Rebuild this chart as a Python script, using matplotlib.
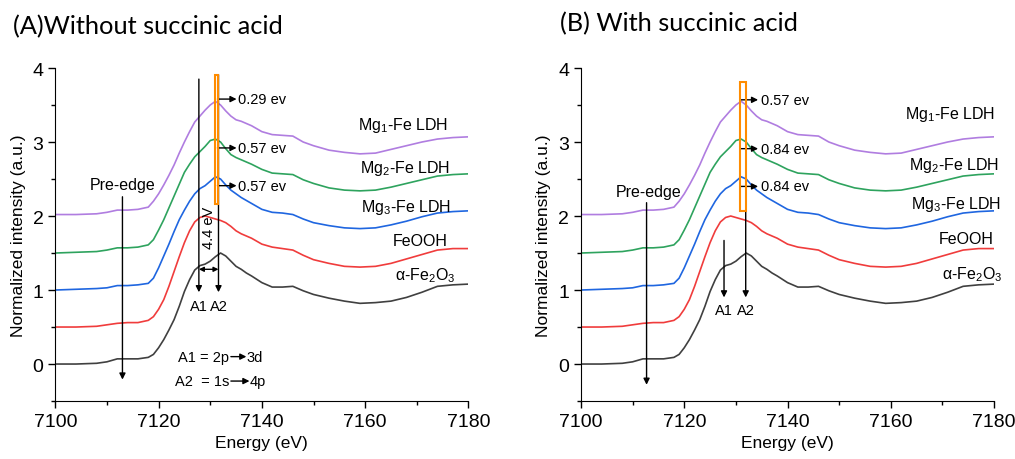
import matplotlib
matplotlib.use("Agg")
import matplotlib.pyplot as plt
from matplotlib.patches import Rectangle
from matplotlib.ticker import MultipleLocator

plt.rcParams['font.family'] = ['Liberation Sans', 'DejaVu Sans']
plt.rcParams['mathtext.fontset'] = 'custom'
plt.rcParams['mathtext.rm'] = 'Liberation Sans'
plt.rcParams['mathtext.it'] = 'Liberation Sans:italic'

# energy grid (eV) shared by all spectra
energy = [7100, 7104, 7108, 7110, 7112, 7114, 7116, 7118,
          7119, 7120, 7121, 7122, 7123, 7124, 7125, 7126, 7127, 7128, 7129, 7130,
          7131, 7132, 7133, 7134, 7135, 7136, 7137, 7138,
          7140, 7142, 7144, 7146, 7148, 7150,
          7153, 7156, 7159, 7162, 7165, 7168, 7171, 7174, 7177, 7180]

# normalized spectra before stacking
fe2o3 = [0.00, 0.00, 0.01, 0.03, 0.07, 0.07, 0.07, 0.09,
         0.13, 0.22, 0.33, 0.46, 0.60, 0.78, 0.98, 1.14, 1.27, 1.33, 1.35, 1.39,
         1.45, 1.50, 1.46, 1.39, 1.32, 1.28, 1.23, 1.19,
         1.10, 1.04, 1.04, 1.05, 0.99, 0.94,
         0.89, 0.85, 0.82, 0.83, 0.85, 0.90, 0.97, 1.05, 1.07, 1.08]
feooh = [0.00, 0.00, 0.01, 0.03, 0.05, 0.06, 0.06, 0.09,
         0.14, 0.24, 0.37, 0.55, 0.75, 0.95, 1.14, 1.30, 1.42, 1.48, 1.50, 1.48,
         1.46, 1.44, 1.41, 1.36, 1.30, 1.26, 1.23, 1.20,
         1.12, 1.08, 1.06, 1.04, 0.97, 0.91,
         0.86, 0.82, 0.81, 0.82, 0.86, 0.92, 0.98, 1.04, 1.06, 1.06]
mg3 = [0.00, 0.01, 0.02, 0.03, 0.06, 0.06, 0.07, 0.09,
       0.16, 0.30, 0.46, 0.62, 0.79, 0.95, 1.08, 1.20, 1.30, 1.37, 1.41, 1.47,
       1.53, 1.50, 1.42, 1.35, 1.30, 1.25, 1.21, 1.17,
       1.09, 1.05, 1.04, 1.02, 0.96, 0.91,
       0.87, 0.84, 0.83, 0.84, 0.88, 0.93, 0.99, 1.04, 1.06, 1.07]
mg2 = [0.00, 0.01, 0.02, 0.04, 0.07, 0.07, 0.08, 0.11,
       0.18, 0.31, 0.45, 0.61, 0.77, 0.93, 1.09, 1.20, 1.30, 1.37, 1.44, 1.52,
       1.54, 1.50, 1.41, 1.33, 1.29, 1.26, 1.23, 1.20,
       1.13, 1.08, 1.07, 1.06, 0.99, 0.94,
       0.88, 0.85, 0.84, 0.85, 0.89, 0.94, 0.99, 1.04, 1.06, 1.07]
mg1 = [0.02, 0.02, 0.03, 0.05, 0.08, 0.08, 0.09, 0.12,
       0.20, 0.30, 0.42, 0.55, 0.69, 0.85, 1.00, 1.14, 1.27, 1.35, 1.43, 1.50,
       1.55, 1.50, 1.42, 1.35, 1.30, 1.28, 1.25, 1.22,
       1.14, 1.10, 1.09, 1.08, 1.00, 0.95,
       0.89, 0.86, 0.84, 0.85, 0.90, 0.95, 1.00, 1.04, 1.06, 1.07]

samples = [fe2o3, feooh, mg3, mg2, mg1]
offsets = [0.0, 0.5, 1.0, 1.5, 2.0]
colors = ['#404040', '#f03c3c', '#1f66e0', '#2ea35e', '#b07de0']
names = [r'$\mathregular{\alpha}$-Fe$_2$O$_3$', 'FeOOH', 'Mg$_3$-Fe LDH',
         'Mg$_2$-Fe LDH', 'Mg$_1$-Fe LDH']

shift_a = ['0.57 ev', '0.57 ev', '0.29 ev']
shift_b = ['0.84 ev', '0.84 ev', '0.57 ev']

fig = plt.figure(figsize=(10.15, 4.6), dpi=100)
axA = fig.add_axes([0.0545, 0.126, 0.407, 0.724])
axB = fig.add_axes([0.5724, 0.126, 0.407, 0.724])

arrow = dict(arrowstyle='-|>', color='black', lw=1.0, mutation_scale=9,
             shrinkA=0, shrinkB=0)


def base(ax, label_pos):
    for s, off, c in zip(samples, offsets, colors):
        ax.plot(energy, [v + off for v in s], color=c, lw=1.2)
    for name, (x, y) in zip(names, label_pos):
        ax.text(x, y, name, ha='right', va='center', fontsize=11.5)
    ax.set_xlim(7100, 7180)
    ax.set_ylim(-0.5, 4)
    ax.xaxis.set_major_locator(MultipleLocator(20))
    ax.xaxis.set_minor_locator(MultipleLocator(10))
    ax.yaxis.set_major_locator(MultipleLocator(1))
    ax.yaxis.set_minor_locator(MultipleLocator(0.5))
    ax.tick_params(which='both', direction='out', labelsize=14, width=1)
    ax.tick_params(which='major', length=5)
    ax.tick_params(which='minor', length=3)
    for sp in ['top', 'right']:
        ax.spines[sp].set_visible(False)
    ax.set_xlabel('Energy (eV)', fontsize=12.5, labelpad=4)
    ax.set_ylabel('Normalized intensity (a.u.)', fontsize=12.5, labelpad=5)


# ---- panel A
base(axA, [(7177.5, 1.21), (7176, 1.67), (7176.6, 2.13), (7176.4, 2.66), (7176, 3.23)])
axA.text(7113, 2.43, 'Pre-edge', ha='center', va='center', fontsize=11.5)
axA.annotate('', xy=(7113, -0.21), xytext=(7113, 2.26), arrowprops=arrow)
axA.annotate('', xy=(7127.8, 0.97), xytext=(7127.8, 3.85), arrowprops=arrow)
axA.annotate('', xy=(7131.6, 0.97), xytext=(7131.6, 3.91), arrowprops=arrow)
axA.add_patch(Rectangle((7130.9, 2.16), 0.6, 1.75, fill=False,
                        edgecolor='#ff8c00', lw=1.5, zorder=5))
axA.text(7127.8, 0.78, 'A1', ha='center', va='center', fontsize=10.5)
axA.text(7131.6, 0.78, 'A2', ha='center', va='center', fontsize=10.5)
axA.annotate('', xy=(7127.8, 1.28), xytext=(7131.6, 1.28),
             arrowprops=dict(arrowstyle='<|-|>', color='black', lw=1.0,
                             mutation_scale=7, shrinkA=0, shrinkB=0))
axA.text(7129.8, 1.86, '4.4 eV', rotation=90, ha='center', va='center', fontsize=10.5)
for lab, y in zip(shift_a, [2.41, 2.92, 3.58]):
    axA.annotate('', xy=(7135.1, y), xytext=(7131.4, y), arrowprops=arrow)
    axA.text(7135.4, y, lab, ha='left', va='center', fontsize=10.5)
axA.text(7133.7, 0.10, 'A1 = 2p', ha='right', va='center', fontsize=10.5)
axA.annotate('', xy=(7137.0, 0.10), xytext=(7134.0, 0.10), arrowprops=arrow)
axA.text(7137.1, 0.10, '3d', ha='left', va='center', fontsize=10.5)
axA.text(7133.7, -0.23, 'A2  = 1s', ha='right', va='center', fontsize=10.5)
axA.annotate('', xy=(7137.6, -0.23), xytext=(7134.0, -0.23), arrowprops=arrow)
axA.text(7137.7, -0.23, '4p', ha='left', va='center', fontsize=10.5)

# ---- panel B
base(axB, [(7181.7, 1.22), (7180, 1.70), (7181.4, 2.17), (7180.9, 2.69), (7180.2, 3.39)])
axB.text(7113.1, 2.33, 'Pre-edge', ha='center', va='center', fontsize=11.5)
axB.annotate('', xy=(7112.7, -0.28), xytext=(7112.7, 2.18), arrowprops=arrow)
axB.annotate('', xy=(7127.7, 0.90), xytext=(7127.7, 1.67), arrowprops=arrow)
axB.annotate('', xy=(7131.9, 0.90), xytext=(7131.9, 2.06), arrowprops=arrow)
axB.add_patch(Rectangle((7130.75, 2.07), 1.2, 1.74, fill=False,
                        edgecolor='#ff8c00', lw=1.5, zorder=5))
axB.text(7127.7, 0.73, 'A1', ha='center', va='center', fontsize=10.5)
axB.text(7131.9, 0.73, 'A2', ha='center', va='center', fontsize=10.5)
for lab, y in zip(shift_b, [2.40, 2.91, 3.57]):
    axB.annotate('', xy=(7134.3, y), xytext=(7130.8, y), arrowprops=arrow)
    axB.text(7134.8, y, lab, ha='left', va='center', fontsize=10.5)

fig.text(0.013, 0.943, '(A)Without succinic acid', fontsize=18.3,
         family=['Lato', 'DejaVu Sans'], va='center', ha='left')
fig.text(0.552, 0.948, '(B) With succinic acid', fontsize=18.3,
         family=['Lato', 'DejaVu Sans'], va='center', ha='left')

fig.savefig('out.png', dpi=100)
